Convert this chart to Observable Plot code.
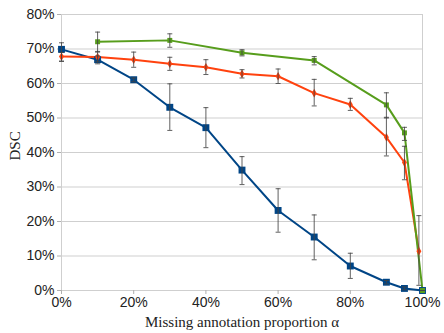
<!DOCTYPE html>
<html><head><meta charset="utf-8">
<script src="https://cdn.jsdelivr.net/npm/d3@7"></script>
<script src="https://cdn.jsdelivr.net/npm/@observablehq/plot@0.6"></script>
<style>
body{margin:0;background:#fff;}
#chart svg{font-family:"Liberation Sans",Arial,sans-serif;}
</style>
</head><body><div id="chart"></div>
<script>
// Missing annotation proportion (x) and DSC values per series
const blueX   = [0, 0.1, 0.2, 0.3, 0.4, 0.5, 0.6, 0.7, 0.8, 0.9, 0.95, 1.0];
const blueY   = [0.699, 0.669, 0.611, 0.531, 0.472, 0.349, 0.232, 0.155, 0.071, 0.024, 0.006, 0.0];
const blueLo  = [0.664, 0.657, 0.605, 0.464, 0.414, 0.307, 0.169, 0.089, 0.035, 0.019, 0.002, 0.0];
const blueHi  = [0.718, 0.680, 0.616, 0.599, 0.530, 0.388, 0.295, 0.219, 0.108, 0.029, 0.010, 0.0];

const redX    = [0, 0.1, 0.2, 0.3, 0.4, 0.5, 0.6, 0.7, 0.8, 0.9, 0.95, 0.99];
const redY    = [0.678, 0.677, 0.669, 0.657, 0.647, 0.628, 0.621, 0.572, 0.539, 0.444, 0.371, 0.114];
const redLo   = [0.665, 0.663, 0.647, 0.638, 0.626, 0.616, 0.600, 0.535, 0.522, 0.390, 0.321, 0.015];
const redHi   = [0.690, 0.693, 0.691, 0.676, 0.669, 0.640, 0.642, 0.612, 0.557, 0.502, 0.418, 0.217];

const greenX  = [0.1, 0.3, 0.5, 0.7, 0.9, 0.95, 1.0];
const greenY  = [0.721, 0.725, 0.689, 0.667, 0.538, 0.457, 0.0];
const greenLo = [0.691, 0.705, 0.680, 0.654, 0.500, 0.435, 0.0];
const greenHi = [0.749, 0.744, 0.698, 0.678, 0.573, 0.473, 0.0];

const xTicks = [0, 0.2, 0.4, 0.6, 0.8, 1.0];
const yTicks = [0, 0.1, 0.2, 0.3, 0.4, 0.5, 0.6, 0.7, 0.8];
const xTitle = "Missing annotation proportion α";
const yTitle = "DSC";

const mk = (xs, ys, lo, hi, s) => xs.map((x, i) => ({x, y: ys[i], lo: lo[i], hi: hi[i], s}));
const blue = mk(blueX, blueY, blueLo, blueHi, "blue");
const red = mk(redX, redY, redLo, redHi, "red");
const green = mk(greenX, greenY, greenLo, greenHi, "green");
const all = [...blue, ...red, ...green];

const C = {blue: "#004586", red: "#ff420e", green: "#579d1c"};
const cap = {draw(ctx, size) { ctx.moveTo(-2.5, 0); ctx.lineTo(2.5, 0); }};

const chart = Plot.plot({
  width: 444, height: 333,
  marginTop: 14, marginBottom: 43, marginLeft: 61, marginRight: 22,
  x: {domain: [0, 1], ticks: xTicks, tickFormat: d3.format(".0%"), tickSize: 4, tickPadding: 3, label: null},
  y: {domain: [0, 0.8], ticks: yTicks, tickFormat: d3.format(".0%"), tickSize: 4, tickPadding: 3, label: null},
  style: {fontSize: "14px", color: "#222"},
  marks: [
    Plot.gridY(yTicks, {stroke: "#cfcfcf", strokeOpacity: 1}),
    Plot.frame({stroke: "#cfcfcf"}),
    Plot.axisX({ticks: xTicks, tickFormat: d3.format(".0%"), tickSize: 4, tickPadding: 3, stroke: "#b0b0b0", label: null, fontSize: 14}),
    Plot.axisY({ticks: yTicks, tickFormat: d3.format(".0%"), tickSize: 4, tickPadding: 3, stroke: "#b0b0b0", label: null, fontSize: 14}),
    Plot.line(blue, {x: "x", y: "y", stroke: C.blue, strokeWidth: 2}),
    Plot.line(red, {x: "x", y: "y", stroke: C.red, strokeWidth: 2}),
    Plot.line(green, {x: "x", y: "y", stroke: C.green, strokeWidth: 2}),
    Plot.dot(blue, {x: "x", y: "y", symbol: "square", r: 3.9, fill: C.blue}),
    Plot.dot(red, {x: "x", y: "y", symbol: "diamond", r: 2.6, fill: C.red}),
    Plot.dot(green, {x: "x", y: "y", symbol: "square", r: 2.8, fill: C.green}),
    Plot.ruleX(all, {x: "x", y1: "lo", y2: "hi", stroke: "#444", strokeWidth: 1, strokeOpacity: 0.85}),
    Plot.dot(all, {x: "x", y: "lo", symbol: cap, r: 3, stroke: "#444", strokeWidth: 1, strokeOpacity: 0.85, fill: "none"}),
    Plot.dot(all, {x: "x", y: "hi", symbol: cap, r: 3, stroke: "#444", strokeWidth: 1, strokeOpacity: 0.85, fill: "none"}),
    Plot.text([xTitle], {frameAnchor: "bottom", dy: 36, fontFamily: "Liberation Serif", fontSize: 15, fill: "#222", text: d => d}),
    Plot.text([yTitle], {frameAnchor: "left", dx: -46, dy: 8, rotate: -90, fontFamily: "Liberation Serif", fontSize: 15, fill: "#222", text: d => d})
  ]
});
document.getElementById("chart").appendChild(chart);
</script>
</body></html>
